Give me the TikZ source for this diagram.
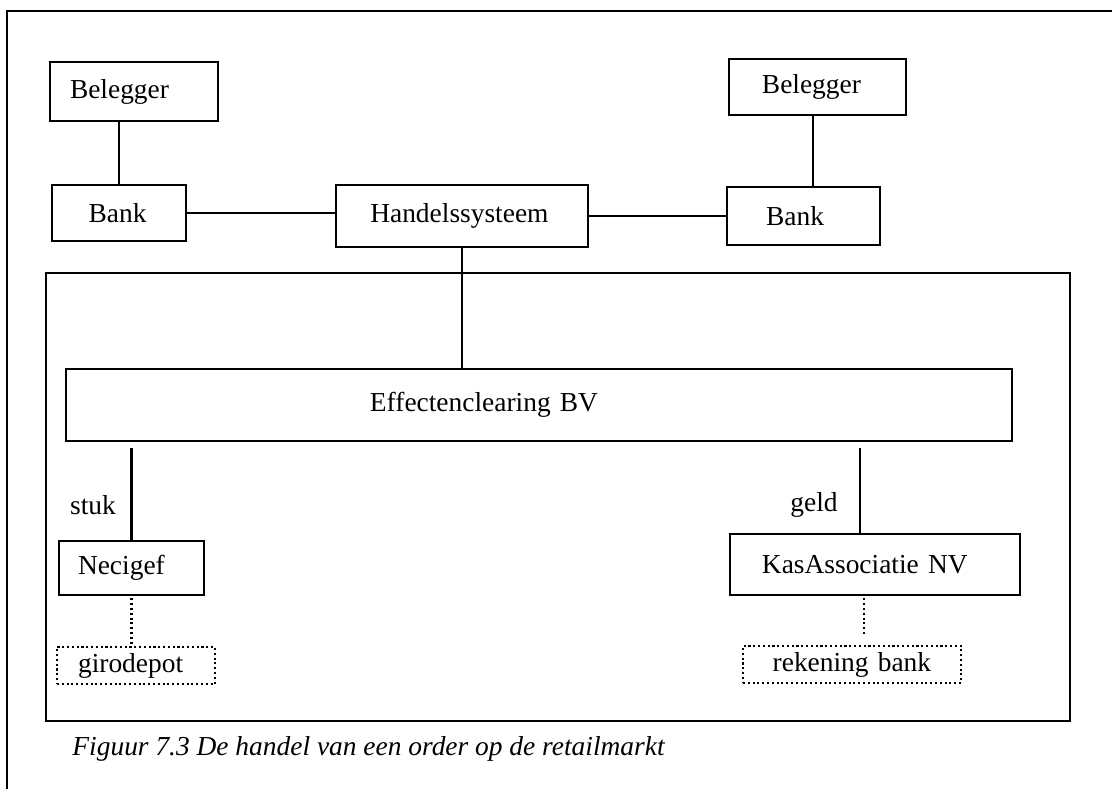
\documentclass[tikz,border=0pt]{standalone}
\usepackage{fontspec}
\setmainfont{Liberation Serif}
\newcommand{\txtsize}{\fontsize{12}{14.4}\selectfont}
\tikzset{
  box/.style={draw, line width=0.9pt, align=left, inner ysep=2pt, font=\txtsize},
  dotbox/.style={box, dash pattern=on 0.9pt off 1.2pt},
  link/.style={line width=0.9pt},
  dotlink/.style={line width=0.9pt, dash pattern=on 0.9pt off 1.2pt},
  frame/.style={line width=1pt},
}
\begin{document}
\begin{tikzpicture}[x=0.4375pt, y=-0.4375pt]
                \useasboundingbox (0,0) rectangle (1112,789);
                \draw[frame] (7,789) -- (7,11) -- (1112,11);
                \draw[frame] (46,273) rectangle (1070,721);

                \node[box, text width=56pt, inner xsep=8.75pt, minimum height=25.8pt] (belegL) at (134,91.5) {Belegger};
                \node[box, text width=26.6pt, inner xsep=16pt, minimum height=24.5pt] (bankL) at (119,213) {Bank};
                \node[box, text width=80.25pt, inner xsep=15pt, minimum height=27.1pt] (handel) at (462,216) {Handelssysteem};
                \node[box, text width=48.6pt, inner xsep=14.4pt, minimum height=24.5pt] (belegR) at (817.5,87) {Belegger};
                \node[box, text width=32.7pt, inner xsep=17.1pt, minimum height=25.4pt] (bankR) at (803.5,216) {Bank};
                \node[box, text width=147.9pt, inner xsep=133pt, minimum height=31.5pt] (effect) at (539,405) {Effectenclearing BV};
                \node[box, text width=46.8pt, inner xsep=8.3pt, minimum height=23.6pt] (necigef) at (131.5,568) {Necigef};
                \node[dotbox, text width=50.7pt, inner xsep=9.2pt, minimum height=16.2pt] (giro) at (136,665.5) {girodepot};
                \node[box, text width=98.9pt, inner xsep=14pt, minimum height=26.7pt] (kas) at (875,564.5) {KasAssociatie NV};
                \node[dotbox, text width=69.4pt, inner xsep=13pt, minimum height=16.2pt] (rekening) at (852,664.5) {rekening bank};

                \node[font=\txtsize] (stuk) at (93,505) {stuk};
                \node[font=\txtsize] (geld) at (814,505) {geld};
                \node[anchor=base west, inner sep=0pt, font=\txtsize\itshape] (caption) at (72,755) {Figuur 7.3 De handel van een order op de retailmarkt};

                \draw[link] (bankL.north) -- (bankL.north |- belegL.south);
                \draw[link] (bankL.east) -- (bankL.east -| handel.west);
                \draw[link] (handel.east) -- (bankR.west);
                \draw[link] ([xshift=-2pt]belegR.south) -- ([xshift=-2pt]belegR.south |- bankR.north);
                \draw[link] (handel.south) -- (handel.south |- effect.north);
                \draw[link, shorten <=2.5pt] (necigef.north |- effect.south) -- (necigef.north);
                \draw[link, shorten <=2.5pt] ([xshift=-6.6pt]kas.north |- effect.south) -- ([xshift=-6.6pt]kas.north);
                \draw[dotlink, shorten <=1pt] (necigef.south) -- (necigef.south |- giro.north);
                \draw[dotlink, line width=0.5pt, shorten <=1pt, shorten >=4pt] ([xshift=-4.8pt]kas.south) -- ([xshift=-4.8pt]kas.south |- rekening.north);
            \end{tikzpicture}
\end{document}
